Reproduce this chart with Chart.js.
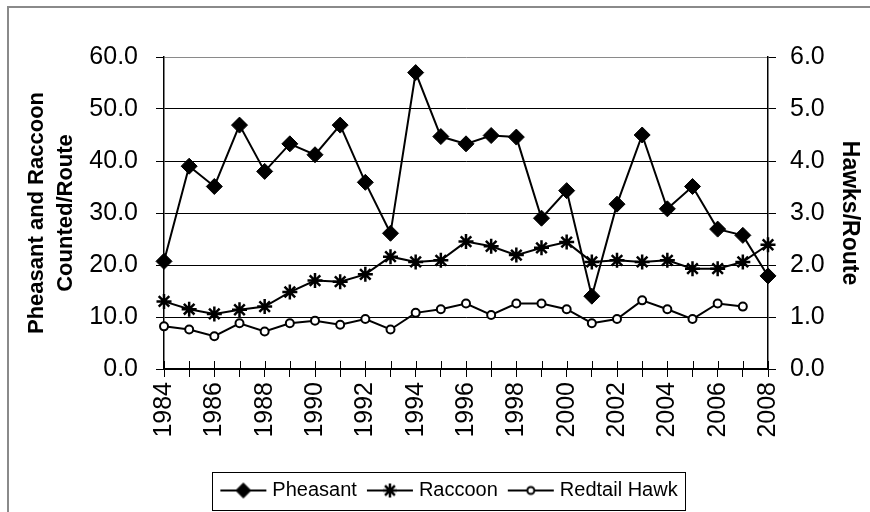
<!DOCTYPE html>
<html>
<head>
<meta charset="utf-8">
<script src="https://cdn.jsdelivr.net/npm/chart.js@4"></script>
<style>
  html, body { margin: 0; padding: 0; background: #fff; }
</style>
</head>
<body>
<canvas id="chart" width="870" height="512"></canvas>
<script>
const years = ['1984', '1985', '1986', '1987', '1988', '1989', '1990', '1991', '1992', '1993', '1994', '1995', '1996',
  '1997', '1998', '1999', '2000', '2001', '2002', '2003', '2004', '2005', '2006', '2007', '2008'];
const pheasant = [20.7, 39.0, 35.1, 46.9, 38.0, 43.3, 41.2, 46.9, 35.9, 26.1, 57.0, 44.7, 43.3,
  44.9, 44.6, 29.0, 34.3, 14.0, 31.7, 45.0, 30.8, 35.1, 26.9, 25.7, 17.9];
const raccoon = [13.0, 11.5, 10.6, 11.4, 12.0, 14.8, 17.0, 16.8, 18.2, 21.6, 20.6, 20.9, 24.5,
  23.6, 21.9, 23.3, 24.4, 20.6, 20.9, 20.6, 20.9, 19.3, 19.3, 20.6, 23.9];
const hawks = [0.82, 0.76, 0.63, 0.88, 0.72, 0.88, 0.93, 0.85, 0.96, 0.76, 1.08, 1.15, 1.26,
  1.04, 1.26, 1.26, 1.15, 0.88, 0.96, 1.32, 1.15, 0.96, 1.26, 1.20, null];

const FONT = '"Liberation Sans", Arial, sans-serif';

// little line+marker pictures for the legend
const makeIcon = (style, radius, fill, width) => {
  const c = document.createElement('canvas');
  c.width = 48;
  c.height = 20;
  const g = c.getContext('2d');
  g.strokeStyle = '#000';
  g.lineWidth = 2;
  g.beginPath();
  g.moveTo(1, 10);
  g.lineTo(47, 10);
  g.stroke();
  g.fillStyle = fill;
  g.lineWidth = width;
  Chart.helpers.drawPoint(g, { pointStyle: style, radius: radius, borderWidth: width, rotation: 0 }, 24, 10);
  return c;
};
const icons = [
  makeIcon('rectRot', 7.5, '#000', 1),
  makeIcon('star', 7, '#000', 2.5),
  makeIcon('circle', 3.5, '#fff', 2)
];

// outer frame, legend box and the upper half of the x ticks
const frame = {
  id: 'frame',
  beforeDraw(chart) {
    const ctx = chart.ctx;
    ctx.save();
    ctx.fillStyle = '#fff';
    ctx.fillRect(0, 0, chart.width, chart.height);
    ctx.strokeStyle = '#8a8a8a';
    ctx.lineWidth = 2;
    ctx.strokeRect(8, 7, chart.width + 20, chart.height + 20);
    ctx.restore();
  },
  afterDraw(chart) {
    const ctx = chart.ctx;
    const x = chart.scales.x;
    ctx.save();
    ctx.strokeStyle = '#000';
    ctx.lineWidth = 1;
    ctx.beginPath();
    x.ticks.forEach((t, i) => {
      const px = Math.round(x.getPixelForTick(i)) + 0.5;
      ctx.moveTo(px, chart.chartArea.bottom);
      ctx.lineTo(px, chart.chartArea.bottom - 8);
    });
    ctx.stroke();
    const boxes = chart.legend.legendHitBoxes;
    const first = boxes[0];
    const last = boxes[boxes.length - 1];
    const left = first.left - 12;
    const right = last.left + last.width + 8;
    ctx.strokeRect(Math.round(left) + 0.5, Math.round(first.top - 9) + 0.5,
      Math.round(right - left), Math.round(first.height + 18));
    ctx.restore();
  }
};

new Chart(document.getElementById('chart'), {
  type: 'line',
  data: {
    labels: years,
    datasets: [
      {
        label: 'Pheasant', data: pheasant, yAxisID: 'y',
        borderColor: '#000', backgroundColor: '#000', borderWidth: 2,
        pointStyle: 'rectRot', pointRadius: 8, pointBorderWidth: 1,
        pointBackgroundColor: '#000', pointBorderColor: '#000', clip: false
      },
      {
        label: 'Raccoon', data: raccoon, yAxisID: 'y',
        borderColor: '#000', backgroundColor: '#000', borderWidth: 2,
        pointStyle: 'star', pointRadius: 7.5, pointBorderWidth: 2.5,
        pointBackgroundColor: '#000', pointBorderColor: '#000', clip: false
      },
      {
        label: 'Redtail Hawk', data: hawks, yAxisID: 'y1',
        borderColor: '#000', backgroundColor: '#fff', borderWidth: 2,
        pointStyle: 'circle', pointRadius: 4, pointBorderWidth: 2,
        pointBackgroundColor: '#fff', pointBorderColor: '#000', clip: false
      }
    ]
  },
  options: {
    responsive: false,
    animation: false,
    devicePixelRatio: 1,
    layout: { padding: { left: 32, right: 0, top: 57, bottom: 1.5 } },
    plugins: {
      tooltip: { enabled: false },
      legend: {
        position: 'bottom',
        labels: {
          usePointStyle: true,
          pointStyleWidth: 38,
          padding: 14,
          color: '#000',
          font: { family: FONT, size: 20 },
          generateLabels: chart => chart.data.datasets.map((ds, i) => ({
            text: ds.label,
            pointStyle: icons[i],
            fillStyle: 'transparent',
            strokeStyle: 'transparent',
            lineWidth: 0,
            hidden: false,
            datasetIndex: i,
            fontColor: '#000'
          }))
        }
      }
    },
    scales: {
      x: {
        offset: false,
        grid: { drawOnChartArea: false, color: '#000', tickColor: '#000', tickLength: 8 },
        border: { color: '#000', width: 1.5 },
        ticks: {
          autoSkip: false, minRotation: 90, maxRotation: 90, padding: 5,
          color: '#000', font: { family: FONT, size: 25 },
          callback: (v, i) => (i % 2 === 0 ? years[i] : '')
        },
        afterFit: s => { s.height = 97.5; }
      },
      y: {
        position: 'left', min: 0, max: 60,
        ticks: {
          stepSize: 10, padding: 18, color: '#000',
          font: { family: FONT, size: 25 },
          callback: v => v.toFixed(1)
        },
        grid: {
          color: c => (c.tick && c.tick.value === 60 ? '#8a8a8a' : '#000'),
          tickColor: '#000', tickLength: 8, lineWidth: 1
        },
        border: { color: '#000', width: 1.5 },
        title: {
          display: true,
          text: ['Pheasant and Raccoon', 'Counted/Route'],
          color: '#000',
          font: { family: FONT, size: 22, weight: 'bold', lineHeight: 1.32 },
          padding: { top: -10, bottom: 0 }
        },
        afterFit: s => { s.width = 132; }
      },
      y1: {
        position: 'right', min: 0, max: 6,
        ticks: {
          stepSize: 1, padding: 14, color: '#000',
          font: { family: FONT, size: 25 },
          callback: v => v.toFixed(1)
        },
        grid: { drawOnChartArea: false, color: '#000', tickColor: '#000', tickLength: 8 },
        border: { color: '#000', width: 1.5 },
        title: {
          display: true,
          text: 'Hawks/Route',
          color: '#000',
          font: { family: FONT, size: 23, weight: 'bold' },
          padding: { top: 7, bottom: 0 }
        },
        afterFit: s => { s.width = 102; }
      }
    }
  },
  plugins: [frame]
});
</script>
</body>
</html>
